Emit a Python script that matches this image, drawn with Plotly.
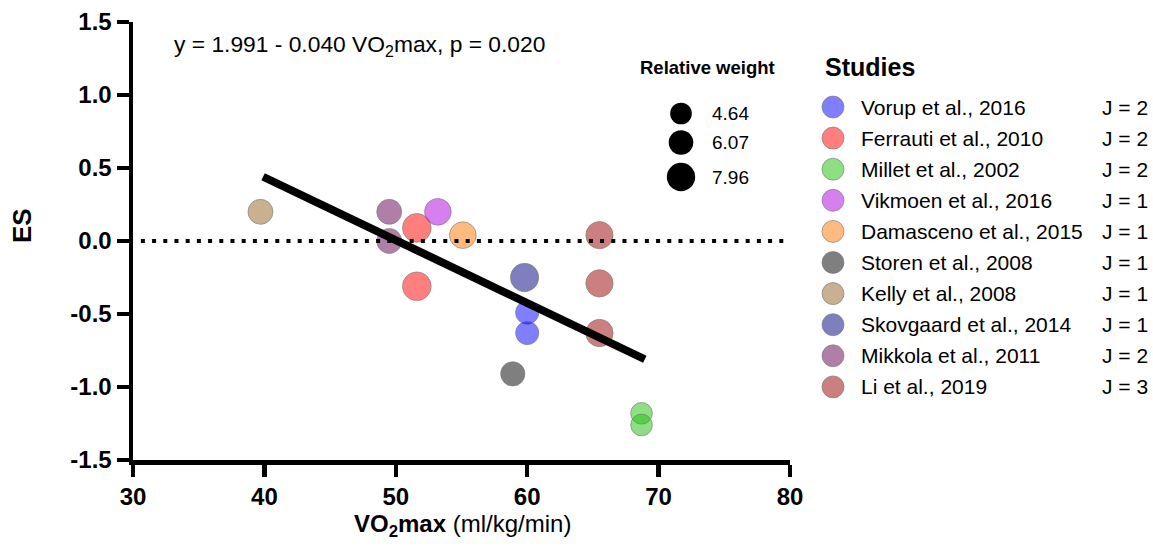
import plotly.graph_objects as go

# ---------------- data ----------------
studies = ["Vorup et al., 2016", "Ferrauti et al., 2010", "Millet et al., 2002",
           "Vikmoen et al., 2016", "Damasceno et al., 2015", "Storen et al., 2008",
           "Kelly et al., 2008", "Skovgaard et al., 2014", "Mikkola et al., 2011",
           "Li et al., 2019"]
j_counts = [2, 2, 2, 1, 1, 1, 1, 1, 2, 3]
study_colors = ["rgba(0,0,255,0.5)", "rgba(255,0,0,0.5)", "rgba(30,190,10,0.5)",
                "rgba(173,0,221,0.5)", "rgba(255,119,0,0.5)", "rgba(0,0,0,0.5)",
                "rgba(145,97,35,0.5)", "rgba(0,0,128,0.5)", "rgba(97,0,82,0.5)",
                "rgba(153,0,0,0.5)"]

vo2max = {
    "Vorup et al., 2016": [60.0, 60.0],
    "Ferrauti et al., 2010": [51.6, 51.6],
    "Millet et al., 2002": [68.7, 68.7],
    "Vikmoen et al., 2016": [53.2],
    "Damasceno et al., 2015": [55.1],
    "Storen et al., 2008": [58.9],
    "Kelly et al., 2008": [39.7],
    "Skovgaard et al., 2014": [59.8],
    "Mikkola et al., 2011": [49.5, 49.5],
    "Li et al., 2019": [65.5, 65.5, 65.5],
}
es = {
    "Vorup et al., 2016": [-0.49, -0.63],
    "Ferrauti et al., 2010": [0.09, -0.31],
    "Millet et al., 2002": [-1.18, -1.26],
    "Vikmoen et al., 2016": [0.20],
    "Damasceno et al., 2015": [0.04],
    "Storen et al., 2008": [-0.91],
    "Kelly et al., 2008": [0.20],
    "Skovgaard et al., 2014": [-0.25],
    "Mikkola et al., 2011": [0.20, 0.00],
    "Li et al., 2019": [0.04, -0.29, -0.63],
}
weights = {
    "Vorup et al., 2016": [5.45, 5.45],
    "Ferrauti et al., 2010": [8.15, 8.15],
    "Millet et al., 2002": [4.64, 4.64],
    "Vikmoen et al., 2016": [7.15],
    "Damasceno et al., 2015": [7.15],
    "Storen et al., 2008": [5.95],
    "Kelly et al., 2008": [6.3],
    "Skovgaard et al., 2014": [7.96],
    "Mikkola et al., 2011": [6.3, 6.3],
    "Li et al., 2019": [7.45, 7.45, 7.45],
}
weight_legend = [4.64, 6.07, 7.96]

fit_x = [39.9, 68.95]
fit_y = [0.44, -0.81]
ref_x = [30.6, 80]
ref_y = [0, 0]

x_ticks = [30, 40, 50, 60, 70, 80]
y_ticks = [-1.5, -1.0, -0.5, 0.0, 0.5, 1.0, 1.5]
y_ticktext = ["-1.5", "-1.0", "-0.5", "0.0", "0.5", "1.0", "1.5"]

equation = "y = 1.991 - 0.040 VO<sub>2</sub>max, p = 0.020"

# ---------------- layout helpers ----------------
W, H = 1153, 547
FONT = "Liberation Sans, Arial, Helvetica, sans-serif"
PL, PR, PT, PB = 133, 790, 22, 460  # plot area in px


def size_of(w):
    return 12.4 + 2.0 * w


fig = go.Figure()

for name, col in zip(studies, study_colors):
    fig.add_trace(go.Scatter(
        x=vo2max[name], y=es[name], mode="markers", name=name,
        marker=dict(color=col, opacity=1, size=[size_of(w) for w in weights[name]],
                    line=dict(color="rgba(120,120,120,0.6)", width=1)),
        showlegend=False, hoverinfo="skip"))

fig.add_trace(go.Scatter(x=ref_x, y=ref_y, mode="lines",
                         line=dict(color="black", width=4, dash="4px,7.2px"),
                         showlegend=False, hoverinfo="skip"))
fig.add_trace(go.Scatter(x=fit_x, y=fit_y, mode="lines",
                         line=dict(color="black", width=8),
                         showlegend=False, hoverinfo="skip"))

# ---- legend (drawn on a full-figure pixel overlay axis) ----
row0, row_step = 107, 31.1
rows_y = [row0 + i * row_step for i in range(len(studies))]
fig.add_trace(go.Scatter(
    x=[833] * len(studies), y=rows_y, mode="markers", xaxis="x2", yaxis="y2",
    marker=dict(color=study_colors, opacity=1, size=22,
                line=dict(color="rgba(120,120,120,0.6)", width=1)),
    showlegend=False, hoverinfo="skip"))

wl_y = [113.5, 142.5, 177]
fig.add_trace(go.Scatter(
    x=[681] * len(weight_legend), y=wl_y, mode="markers", xaxis="x2", yaxis="y2",
    marker=dict(color="black", opacity=1, size=[size_of(w) for w in weight_legend],
                line=dict(width=0)),
    showlegend=False, hoverinfo="skip"))

annotations = []


def px_ann(text, x, y, size, xanchor="left", bold=False, angle=0):
    annotations.append(dict(
        text=text, x=x, y=y, xref="x2", yref="y2", xanchor=xanchor,
        yanchor="middle", showarrow=False, textangle=angle,
        font=dict(family=FONT, size=size, color="black", weight="bold" if bold else "normal")))


for name, j, yy in zip(studies, j_counts, rows_y):
    px_ann(name, 859, yy, 21)
    px_ann(f"J = {j}", 1100, yy, 21)

px_ann("Studies", 823, 67, 25, bold=True)
px_ann("Relative weight", 707, 67, 18.5, xanchor="center", bold=True)
for w, yy in zip(weight_legend, wl_y):
    px_ann(f"{w:.2f}", 710, yy, 19)

px_ann(equation, 172, 45, 22.8)
px_ann("ES", 22, 226, 26, xanchor="center", bold=True, angle=-90)
px_ann("<b>VO<sub>2</sub>max</b> (ml/kg/min)", 462, 525, 24, xanchor="center")

axis_common = dict(showgrid=False, zeroline=False, showline=True, linecolor="black",
                   linewidth=4.5, ticks="outside", ticklen=12, tickwidth=4.5,
                   tickcolor="black",
                   tickfont=dict(family=FONT, size=24, color="black", weight="bold"))

fig.update_layout(
    width=W, height=H,
    margin=dict(l=0, r=0, t=0, b=0, pad=0, autoexpand=False),
    paper_bgcolor="white", plot_bgcolor="rgba(0,0,0,0)",
    xaxis=dict(domain=[PL / W, PR / W], range=[30, 80], tickvals=x_ticks,
               anchor="y", automargin=False, **axis_common),
    yaxis=dict(domain=[(H - PB) / H, (H - PT) / H], range=[-1.5, 1.5],
               tickvals=y_ticks, ticktext=y_ticktext, anchor="x",
               automargin=False, **axis_common),
    xaxis2=dict(domain=[0, 1], range=[0, W], visible=False, anchor="y2"),
    yaxis2=dict(domain=[0, 1], range=[H, 0], visible=False, anchor="x2"),
    annotations=annotations,
    showlegend=False,
)

# Remove the default page margin / scrollbars so the figure fills the window exactly.
page_fix = ("document.body.style.margin='0';"
            "document.body.style.overflow='hidden';"
            "document.documentElement.style.overflow='hidden';")
fig.write_html("out.html", post_script=page_fix,
               config={"displayModeBar": False, "staticPlot": True})
